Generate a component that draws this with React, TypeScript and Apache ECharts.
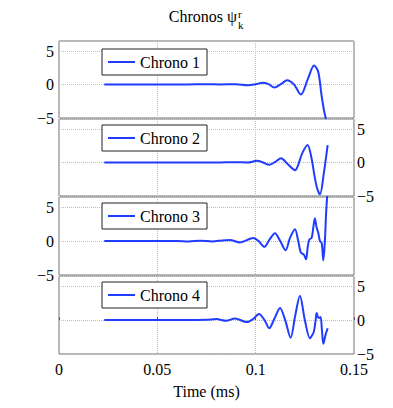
import React, { useEffect, useRef } from "react";
import * as echarts from "echarts";

// ---- Data (time in ms, amplitude) ----
const seriesNames = ["Chrono 1", "Chrono 2", "Chrono 3", "Chrono 4"];

const chrono1T = [0.023, 0.04, 0.055, 0.065, 0.075, 0.082, 0.09, 0.096, 0.1, 0.1035, 0.1065, 0.1095, 0.113, 0.116, 0.1195, 0.123, 0.1265, 0.1297, 0.1318, 0.1335, 0.1347, 0.1357, 0.1365];
const chrono1V = [0, 0, 0, 0.02, 0.05, 0.02, 0.05, -0.1, 0.05, 0.25, 0.05, -0.45, 0.1, 0.65, 0, -1.5, 0.8, 2.85, 1.9, -1.6, -3.8, -5.1, -6];

const chrono2T = [0.023, 0.05, 0.07, 0.08, 0.09, 0.096, 0.1005, 0.1035, 0.1068, 0.11, 0.1129, 0.1165, 0.12, 0.1237, 0.1264, 0.1285, 0.1298, 0.1312, 0.1327, 0.1347, 0.1366];
const chrono2V = [0, 0, 0.02, 0, 0.05, 0, 0.25, 0.05, -0.35, 0.1, 0.65, -0.3, -1.15, 1.4, 2.6, 0.5, -1.8, -3.8, -4.75, -1.5, 2.6];

const chrono3T = [0.023, 0.05, 0.06, 0.066, 0.072, 0.078, 0.083, 0.0869, 0.092, 0.0988, 0.1015, 0.1044, 0.107, 0.1098, 0.1125, 0.1152, 0.1175, 0.12, 0.1215, 0.123, 0.1245, 0.1256, 0.1265, 0.1273, 0.1285, 0.1293, 0.1301, 0.131, 0.1318, 0.1327, 0.1336, 0.1344, 0.1352, 0.1358, 0.1364];
const chrono3V = [0, 0, 0.02, -0.05, 0.05, -0.05, 0.1, 0.15, -0.2, 0.45, 0, -0.85, 0.2, 1.15, 0, -1.35, 0.5, 1.75, 0.2, -1.7, -2.0, -2.7, -0.8, 0.25, 0.5, 2, 3.35, 2, 1.25, 0, -0.3, -2.85, 0, 4, 6.8];

const chrono4T = [0.023, 0.05, 0.065, 0.075, 0.08, 0.085, 0.0895, 0.0954, 0.0985, 0.1017, 0.1045, 0.1069, 0.1095, 0.1124, 0.115, 0.1178, 0.12, 0.1225, 0.125, 0.1276, 0.1288, 0.1296, 0.1305, 0.131, 0.1316, 0.1322, 0.133, 0.1337, 0.1344, 0.1355, 0.1366];
const chrono4V = [0, 0, 0, 0.05, 0.15, -0.1, 0.25, -0.3, 0.1, 0.9, 0, -1.2, 0.2, 1.8, 0, -2.6, 0.5, 3.6, 0, -2.7, -2.2, -1.7, 0, 1.05, 0.5, 0.3, 0.45, -1.5, -3.5, -2.2, -1.2];

const allT = [chrono1T, chrono2T, chrono3T, chrono4T];
const allV = [chrono1V, chrono2V, chrono3V, chrono4V];

const xTicks = [0, 0.05, 0.1, 0.15];
const yTicks = [-5, 0, 5];

// ---- Layout ----
const FONT = "Liberation Serif";
const LINE_COLOR = "#1f3dff";
const panelTops = [41, 119, 197, 276];
const panelHeights = [77, 77, 78, 78];
const legendTops = [49, 125, 203, 282];

export default function App() {
  const ref = useRef<HTMLDivElement>(null);

  useEffect(() => {
    document.body.style.margin = "0";
    if (!ref.current) return;
    const chart = echarts.init(ref.current, undefined, { renderer: "svg" });

    const grid: any[] = [];
    const xAxis: any[] = [];
    const yAxis: any[] = [];
    const series: any[] = [];
    const legend: any[] = [];

    const splitStyle = () => ({ show: true, lineStyle: { type: "dotted", color: "#bdbdbd", width: 1 } });

    for (let i = 0; i < 4; i++) {
      grid.push({
        left: 59,
        width: 295,
        top: panelTops[i],
        height: panelHeights[i],
        show: true,
        borderColor: "#707070",
        borderWidth: 1,
        backgroundColor: "transparent",
      });
      xAxis.push({
        type: "value",
        gridIndex: i,
        min: 0,
        max: 0.15,
        interval: 0.05,
        position: "bottom",
        axisLine: { show: false },
        axisTick: { show: i === 3, inside: true, length: 3, lineStyle: { color: "#555", width: 1 } },
        splitLine: splitStyle(),
        axisLabel: {
          show: i === 3,
          margin: 7,
          fontSize: 16,
          fontFamily: FONT,
          color: "#000",
          formatter: (v: number) => {
            const m = xTicks.find((t) => Math.abs(t - v) < 1e-9);
            return m === undefined ? "" : String(m);
          },
        },
        name: i === 3 ? "Time (ms)" : "",
        nameLocation: "middle",
        nameGap: 29,
        nameTextStyle: { fontSize: 16, fontFamily: FONT, color: "#000" },
      });
      const labelSide = i % 2 === 0 ? "left" : "right";
      yAxis.push({
        type: "value",
        gridIndex: i,
        min: -5,
        max: 6.5,
        interval: 5,
        position: labelSide,
        axisLine: { show: false },
        axisTick: { show: false },
        splitLine: splitStyle(),
        axisLabel: {
          show: true,
          margin: labelSide === "left" ? 5 : 3,
          fontSize: 16,
          fontFamily: FONT,
          color: "#000",
          formatter: (v: number) => {
            const m = yTicks.find((t) => Math.abs(t - v) < 1e-9);
            if (m === undefined) return "";
            return m < 0 ? "\u2212" + Math.abs(m) : String(m);
          },
        },
      });
      series.push({
        type: "line",
        name: seriesNames[i],
        xAxisIndex: i,
        yAxisIndex: i,
        data: allT[i].map((t, j) => [t, allV[i][j]]),
        symbol: "none",
        smooth: 0.3,
        clip: true,
        lineStyle: { color: LINE_COLOR, width: 2 },
        itemStyle: { color: LINE_COLOR },
      });
      legend.push({
        data: [seriesNames[i]],
        left: 102,
        top: legendTops[i],
        orient: "horizontal",
        selectedMode: false,
        backgroundColor: "#fff",
        borderColor: "#222",
        borderWidth: 1,
        padding: [5, 7, 5, 5],
        itemWidth: 27,
        itemHeight: 14,
        itemStyle: { opacity: 0 },
        lineStyle: { color: LINE_COLOR, width: 2, opacity: 1 },
        textStyle: { fontSize: 16, fontFamily: FONT, color: "#000" },
      });
    }

    chart.setOption({
      animation: false,
      backgroundColor: "#fff",
      grid,
      xAxis,
      yAxis,
      series,
      legend,
      graphic: [
        {
          type: "text",
          x: 237,
          y: 16,
          style: { text: "Chronos \u03c8", font: `16px "${FONT}"`, fill: "#000", textAlign: "right", textVerticalAlign: "middle" },
        },
        {
          type: "text",
          x: 238,
          y: 14,
          style: { text: "r", font: `11px "${FONT}"`, fill: "#000", textAlign: "left", textVerticalAlign: "middle" },
        },
        {
          type: "text",
          x: 238,
          y: 25,
          style: { text: "k", font: `11px "${FONT}"`, fill: "#000", textAlign: "left", textVerticalAlign: "middle" },
        },
      ],
    });

    return () => chart.dispose();
  }, []);

  return <div ref={ref} style={{ width: 393, height: 408 }} />;
}
